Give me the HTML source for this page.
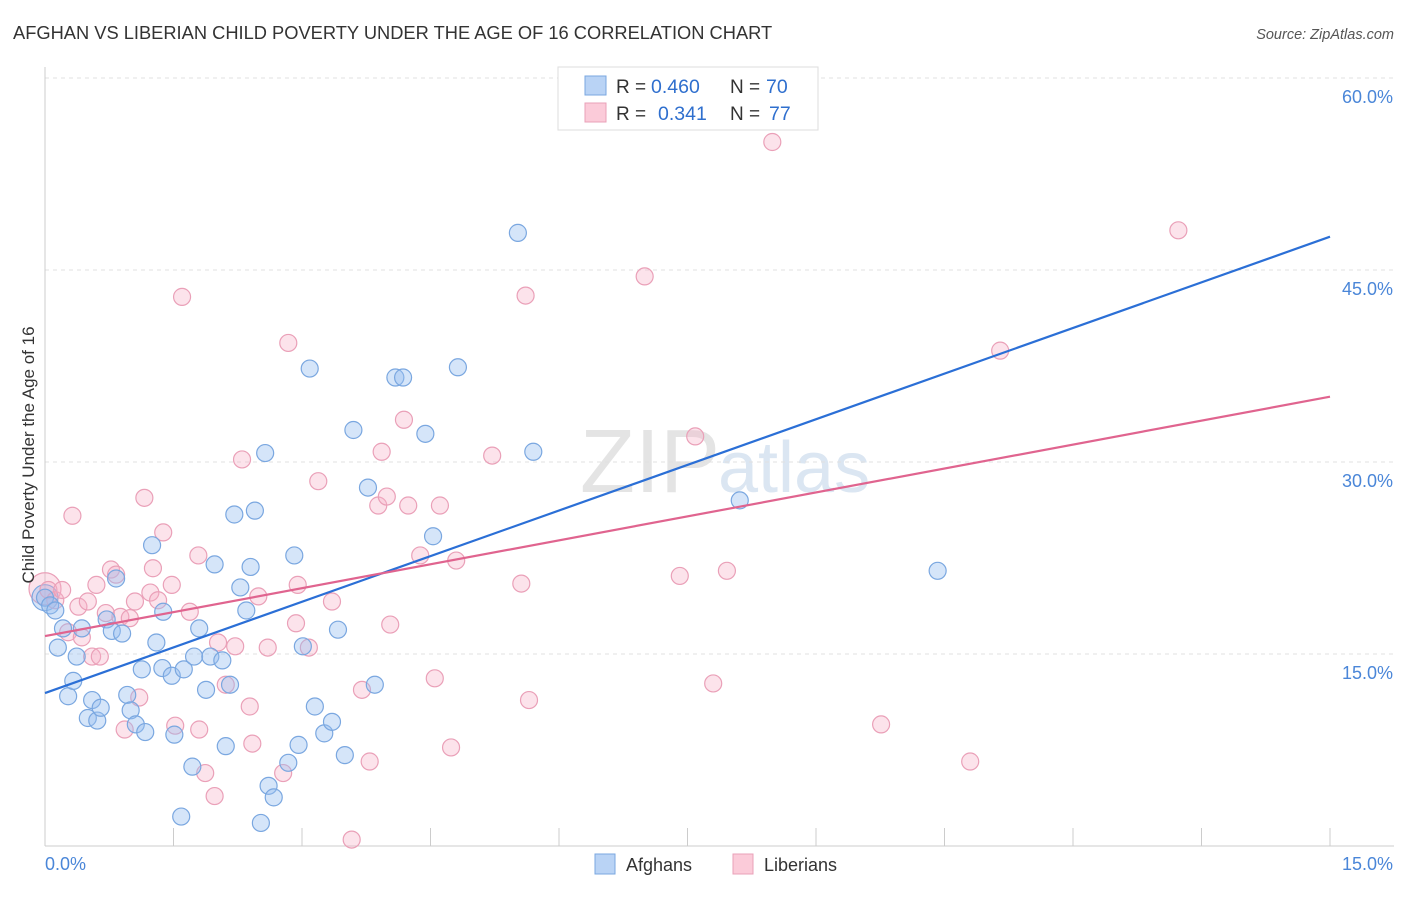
<!DOCTYPE html>
<html><head><meta charset="utf-8"><style>
body{margin:0;background:#fff;font-family:"Liberation Sans",sans-serif;}
svg text{font-family:"Liberation Sans",sans-serif;}
</style></head><body>
<svg id="chart" width="1406" height="892" xmlns="http://www.w3.org/2000/svg">
<text x="13" y="39" font-size="18.3" fill="#333">AFGHAN VS LIBERIAN CHILD POVERTY UNDER THE AGE OF 16 CORRELATION CHART</text>
<text x="1394" y="39" font-size="14.5" fill="#555" font-style="italic" text-anchor="end">Source: ZipAtlas.com</text>
<text x="720" y="492" font-size="90" fill="#e4e4e4" text-anchor="end" font-family="Liberation Serif">ZIP</text>
<text x="718" y="492" font-size="72" fill="#dbe6f2">atlas</text>
<g id="grid"></g>
<g id="axes"></g>
<g id="pts"></g>
<g id="lines"></g>
<text transform="translate(34,455) rotate(-90)" font-size="17" fill="#333" text-anchor="middle">Child Poverty Under the Age of 16</text>
<g>
<rect x="558" y="67" width="260" height="63" fill="#fff" stroke="#ddd"/>
<rect x="585" y="76" width="21" height="19" fill="#b9d3f5" stroke="#7aa7e0"/>
<rect x="585" y="103" width="21" height="19" fill="#fbcbd9" stroke="#eaa0b8"/>
<text x="616" y="93" font-size="19" fill="#333">R =</text>
<text x="651" y="93" font-size="19.5" fill="#2f6fce">0.460</text>
<text x="730" y="93" font-size="19" fill="#333">N =</text>
<text x="766" y="93" font-size="19.5" fill="#2f6fce">70</text>
<text x="616" y="120" font-size="19" fill="#333">R =</text>
<text x="658" y="120" font-size="19.5" fill="#2f6fce">0.341</text>
<text x="730" y="120" font-size="19" fill="#333">N =</text>
<text x="769" y="120" font-size="19.5" fill="#2f6fce">77</text>
</g>
<g>
<rect x="595" y="854" width="20" height="20" fill="#b9d3f5" stroke="#7aa7e0"/>
<text x="626" y="871" font-size="18" fill="#333">Afghans</text>
<rect x="733" y="854" width="20" height="20" fill="#fbcbd9" stroke="#eaa0b8"/>
<text x="764" y="871" font-size="18" fill="#333">Liberians</text>
</g>
</svg>
<script>
const yTicks=[15,30,45,60];
const yTickLabels=["15.0%","30.0%","45.0%","60.0%"];
const xTickCount=10;
const afgX=[0,0.06,0.12,0.15,0.21,0.27,0.33,0.37,0.43,0.50,0.55,0.61,0.65,0.72,0.78,0.83,0.90,0.96,1.00,1.06,1.17,1.13,1.25,1.30,1.38,1.37,1.48,1.51,1.59,1.62,1.72,1.74,1.80,1.88,1.93,1.98,2.07,2.11,2.16,2.21,2.28,2.35,2.40,2.45,2.57,2.61,2.52,2.67,2.84,2.91,2.96,3.01,3.09,3.15,3.26,3.35,3.42,3.50,3.60,3.77,3.85,4.09,4.18,4.44,4.53,4.82,5.52,5.70,8.11,10.42];
const afgY=[19.4,18.8,18.4,15.5,17.0,11.7,12.9,14.8,17.0,10.0,11.4,9.8,10.8,17.7,16.8,20.9,16.6,11.8,10.6,9.5,8.9,13.8,23.5,15.9,18.3,13.9,13.3,8.7,2.3,13.8,6.2,14.8,17.0,12.2,14.8,22.0,14.5,7.8,12.6,25.9,20.2,18.4,21.8,26.2,30.7,4.7,1.8,3.8,6.5,22.7,7.9,15.6,37.3,10.9,8.8,9.7,16.9,7.1,32.5,28.0,12.6,36.6,36.6,32.2,24.2,37.4,47.9,30.8,27.0,21.5];
const libX=[0.04,0.12,0.20,0.27,0.32,0.39,0.43,0.50,0.55,0.60,0.64,0.71,0.77,0.83,0.88,0.93,0.99,1.05,1.10,1.16,1.23,1.26,1.32,1.38,1.48,1.52,1.60,1.69,1.79,1.80,1.87,1.98,2.02,2.11,2.22,2.30,2.39,2.42,2.49,2.60,2.78,2.84,2.93,2.95,3.08,3.19,3.35,3.58,3.70,3.79,3.89,3.93,3.99,4.03,4.19,4.24,4.38,4.55,4.61,4.74,4.80,5.22,5.56,5.61,5.65,7.00,7.41,7.59,7.80,7.96,8.49,9.76,10.80,11.15,13.23];
const libY=[20.0,19.2,20.0,16.7,25.8,18.7,16.3,19.1,14.8,20.4,14.8,18.2,21.6,21.2,17.9,9.1,17.8,19.1,11.6,27.2,19.8,21.7,19.2,24.5,20.4,9.4,42.9,18.3,22.7,9.1,5.7,3.9,15.9,12.6,15.6,30.2,10.9,8.0,19.5,15.5,5.7,39.3,17.4,20.4,15.5,28.5,19.1,0.5,12.2,6.6,26.6,30.8,27.3,17.3,33.3,26.6,22.7,13.1,26.6,7.7,22.3,30.5,20.5,43.0,11.4,44.5,21.1,32.0,12.7,21.5,55.0,9.5,6.6,38.7,48.1];
const bigX=[0,0];
const bigY=[19.4,20.1];
const trendAfg=[11.95,47.6];
const trendLib=[16.4,35.1];
const NS="http://www.w3.org/2000/svg";
const sx=v=>45+v*(1285/15);
const sy=v=>846-v*12.8;
function mk(tag,attrs,parent){const e=document.createElementNS(NS,tag);for(const k in attrs)e.setAttribute(k,attrs[k]);document.getElementById(parent).appendChild(e);return e;}
yTicks.forEach((t,i)=>{
 const g=mk('line',{x1:45,x2:1394,y1:sy(t),y2:sy(t),stroke:'#e0e0e0','stroke-dasharray':'4,4'},'grid');
 
 
 const l=mk('text',{x:1393,y:sy(t)+25,'font-size':18,fill:'#4a86d8','text-anchor':'end'},'grid');
 l.textContent=yTickLabels[i];
 
 
});
const ya=mk('line',{x1:45,x2:45,y1:67,y2:846,stroke:'#ccc'},'axes');


const xa=mk('line',{x1:45,x2:1394,y1:846,y2:846,stroke:'#ccc'},'axes');


for(let i=0;i<=xTickCount;i++){
 const t=mk('line',{x1:sx(i*1.5),x2:sx(i*1.5),y1:828,y2:846,stroke:'#ccc'},'axes');
 
 
}
const x0=mk('text',{x:45,y:870,'font-size':18,fill:'#4a86d8'},'axes');x0.textContent='0.0%';


const x1=mk('text',{x:1393,y:870,'font-size':18,fill:'#4a86d8','text-anchor':'end'},'axes');x1.textContent='15.0%';


function dots(X,Y,fill,stroke,name,r){
 X.forEach((x,i)=>{const c=mk('circle',{cx:sx(x),cy:sy(Y[i]),r:r,fill:fill,stroke:stroke,'stroke-width':1.2},'pts');
 
 });
}
dots(bigX.slice(1),bigY.slice(1),'rgba(245,175,198,0.35)','#eaa0b8','liberian-point',16);
dots(bigX.slice(0,1),bigY.slice(0,1),'rgba(150,190,240,0.4)','#7aa7e0','afghan-point',13);
dots(libX,libY,'rgba(245,175,198,0.35)','#eaa0b8','liberian-point',8.5);
dots(afgX,afgY,'rgba(150,190,240,0.4)','#7aa7e0','afghan-point',8.5);
const ta=mk('line',{x1:sx(0),y1:sy(trendAfg[0]),x2:sx(15),y2:sy(trendAfg[1]),stroke:'#2b6fd6','stroke-width':2.2},'lines');


const tl=mk('line',{x1:sx(0),y1:sy(trendLib[0]),x2:sx(15),y2:sy(trendLib[1]),stroke:'#e0648f','stroke-width':2.2},'lines');


</script>
</body></html>
